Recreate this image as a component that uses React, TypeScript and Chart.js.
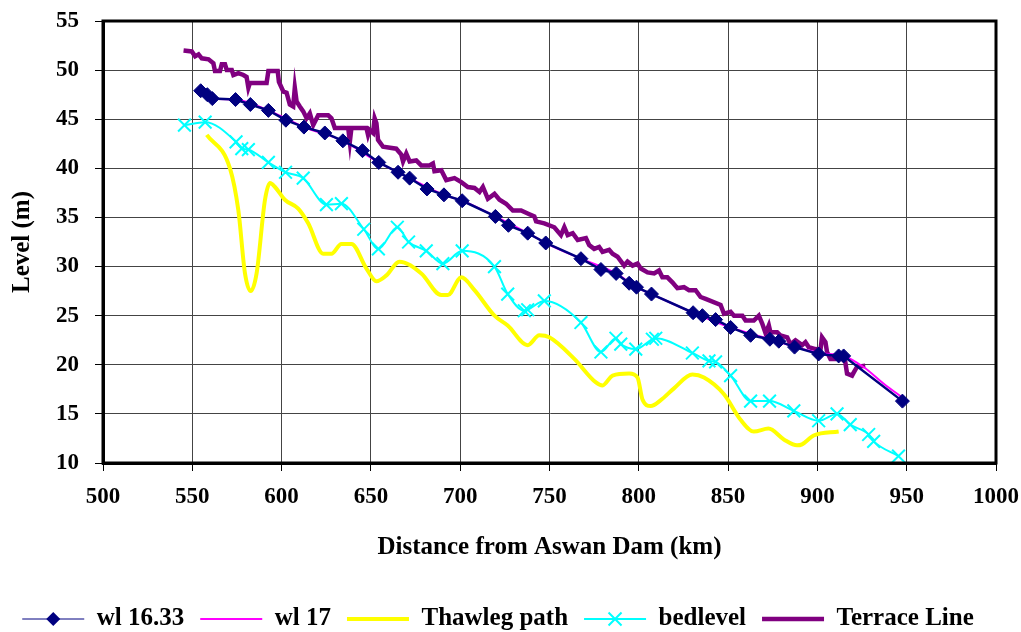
import React, { useEffect, useRef } from 'react';
import { Chart, registerables } from 'chart.js';

Chart.register(...registerables);

const FONT = "'Liberation Serif', 'Times New Roman', serif";

// ---- data (distance from Aswan Dam in km, level in m) ----
const xTickMin = 500;
const xTickMax = 1000;
const xTickStep = 50;
const yTickMin = 10;
const yTickMax = 55;
const yTickStep = 5;

const seriesNames = ['wl 16.33', 'wl 17', 'Thawleg path', 'bedlevel', 'Terrace Line'];

const wl1633Km = [554.7, 558.4, 561.2, 574.2, 582.5, 592.6, 602.4, 612.5, 624.2, 634.3, 645.3, 654.4, 665.2, 671.7, 681.4, 690.9, 701.1, 719.7, 727.0, 737.8, 747.9, 767.6, 778.8, 787.3, 794.6, 798.7, 807.1, 830.4, 835.6, 843.0, 851.4, 862.6, 873.4, 878.4, 887.2, 900.7, 911.9, 914.7, 947.6];
const wl1633Level = [47.9, 47.5, 47.1, 47.0, 46.5, 45.9, 44.9, 44.2, 43.6, 42.8, 41.8, 40.6, 39.6, 39.0, 37.9, 37.3, 36.7, 35.1, 34.2, 33.4, 32.4, 30.8, 29.7, 29.3, 28.3, 27.9, 27.2, 25.3, 25.0, 24.6, 23.8, 23.0, 22.6, 22.4, 21.8, 21.1, 20.9, 20.9, 16.3];

const wl17Km = [554.7, 561.2, 574.2, 592.6, 612.5, 634.3, 654.4, 671.7, 690.9, 701.1, 719.7, 737.8, 747.9, 767.6, 787.3, 798.7, 807.1, 830.4, 851.4, 873.4, 893.9, 900.7, 914.7, 926.0, 937.0, 948.0];
const wl17Level = [47.9, 47.1, 47.0, 45.9, 44.2, 42.8, 40.6, 39.0, 37.3, 36.7, 35.1, 33.4, 32.4, 30.8, 29.3, 27.9, 27.2, 25.3, 23.8, 22.6, 21.5, 21.2, 20.9, 19.75, 18.1, 16.6];

const thalwegKm = [558.1, 571.1, 575.8, 579.5, 582.7, 586.0, 590.7, 593.5, 596.3, 601.8, 609.3, 614.9, 623.3, 627.9, 633.5, 639.1, 647.5, 653.1, 658.7, 665.9, 678.2, 689.4, 693.1, 700.6, 708.0, 719.2, 726.6, 737.8, 744.3, 749.9, 763.9, 776.0, 779.7, 785.3, 794.6, 799.3, 802.0, 806.7, 812.3, 819.7, 830.0, 836.5, 847.7, 857.0, 864.4, 872.6, 881.2, 888.6, 891.4, 897.9, 911.9];
const thalwegLevel = [43.4, 40.0, 35.7, 29.3, 27.5, 29.3, 36.8, 38.5, 38.1, 36.8, 35.9, 34.4, 31.3, 31.3, 32.3, 32.3, 29.8, 28.5, 29.1, 30.5, 29.3, 27.1, 27.1, 28.9, 27.6, 25.0, 24.0, 22.0, 23.0, 22.8, 20.6, 18.2, 17.9, 18.9, 19.1, 18.7, 16.5, 15.8, 16.4, 17.6, 19.0, 18.7, 17.0, 14.4, 13.2, 13.5, 12.4, 11.8, 11.9, 12.8, 13.2];

const bedKm = [545.6, 557.2, 574.5, 577.7, 581.4, 592.6, 602.2, 612.1, 625.1, 633.5, 646.0, 654.2, 664.8, 671.1, 681.0, 690.3, 701.1, 719.2, 726.6, 735.9, 737.8, 747.1, 767.6, 778.8, 787.2, 789.9, 798.3, 807.6, 809.5, 830.0, 839.3, 843.0, 851.4, 862.6, 873.2, 886.8, 900.7, 911.0, 918.4, 928.7, 931.5, 945.4];
const bedLevel = [44.4, 44.7, 42.7, 42.0, 41.9, 40.6, 39.6, 39.0, 36.3, 36.4, 33.8, 31.8, 34.0, 32.5, 31.6, 30.3, 31.6, 30.0, 27.2, 25.5, 25.6, 26.5, 24.3, 21.3, 22.7, 22.1, 21.6, 22.6, 22.7, 21.2, 20.4, 20.3, 18.9, 16.3, 16.3, 15.3, 14.3, 15.0, 13.9, 12.9, 12.2, 10.7];

const terraceKm = [545.1, 549.7, 551.6, 553.5, 555.3, 559.1, 561.8, 562.7, 565.5, 566.5, 568.3, 569.3, 572.1, 573.0, 575.8, 578.6, 580.4, 581.4, 582.3, 585.1, 591.6, 592.6, 597.8, 598.5, 601.0, 602.8, 604.6, 606.5, 607.4, 608.4, 610.2, 612.1, 614.0, 615.8, 617.7, 620.5, 626.1, 627.9, 629.8, 637.3, 638.2, 639.1, 641.0, 647.5, 648.4, 649.3, 651.2, 652.1, 653.1, 654.0, 656.8, 664.2, 667.0, 668.0, 669.8, 671.7, 675.4, 678.2, 682.8, 684.7, 685.6, 689.4, 692.2, 696.8, 700.6, 704.3, 708.0, 710.8, 712.7, 715.5, 719.2, 722.0, 725.7, 729.5, 734.1, 737.8, 741.5, 742.5, 747.1, 752.7, 756.4, 758.3, 760.2, 763.0, 765.8, 770.4, 772.2, 775.0, 777.8, 779.7, 783.4, 785.3, 788.1, 791.8, 793.7, 796.5, 799.3, 801.1, 804.9, 808.6, 811.3, 813.2, 816.0, 818.8, 821.6, 825.3, 828.1, 831.8, 834.6, 837.4, 845.8, 847.7, 851.4, 853.3, 858.0, 859.8, 864.4, 867.2, 869.1, 871.0, 872.8, 873.7, 877.5, 879.3, 883.1, 884.9, 887.7, 891.5, 893.3, 895.1, 898.9, 901.7, 902.6, 904.5, 905.4, 907.3, 910.1, 912.8, 915.6, 916.6, 919.4, 920.3, 922.2, 926.8];
const terraceLevel = [52.0, 51.9, 51.4, 51.6, 51.2, 51.1, 50.7, 49.9, 49.9, 50.6, 50.6, 50.0, 50.0, 49.5, 49.7, 49.5, 49.3, 48.2, 48.7, 48.7, 48.7, 49.9, 49.9, 48.8, 47.8, 47.7, 46.5, 46.3, 48.2, 46.8, 46.3, 45.8, 45.1, 45.6, 44.4, 45.4, 45.4, 45.1, 44.1, 44.1, 42.7, 44.1, 44.1, 44.1, 43.4, 43.9, 43.6, 45.1, 44.6, 42.9, 42.2, 42.0, 41.4, 40.7, 41.5, 40.7, 40.8, 40.3, 40.3, 40.5, 39.7, 39.8, 38.8, 39.0, 38.6, 38.1, 38.0, 37.6, 38.1, 36.9, 37.4, 36.8, 36.4, 35.7, 35.7, 35.4, 35.1, 34.6, 34.4, 34.0, 33.2, 34.0, 33.2, 33.4, 32.7, 32.9, 32.2, 31.8, 32.0, 31.5, 31.7, 31.3, 31.0, 30.1, 30.5, 30.1, 30.3, 29.8, 29.4, 29.3, 29.6, 28.9, 28.9, 28.4, 27.8, 27.9, 27.6, 27.6, 26.9, 26.7, 26.1, 25.2, 25.4, 25.0, 25.0, 24.5, 24.5, 25.0, 24.2, 23.2, 24.0, 23.3, 23.3, 23.0, 22.8, 22.1, 22.5, 22.0, 22.3, 21.8, 21.6, 21.5, 22.8, 22.3, 21.3, 20.6, 20.6, 20.8, 20.3, 19.1, 18.9, 19.2, 19.8, 19.9];

const toPoints = (xs: number[], ys: number[]) => xs.map((x, i) => ({ x, y: ys[i] }));

const NAVY = '#000080';
const MAGENTA = '#FF00FF';
const YELLOW = '#FFFF00';
const CYAN = '#00FFFF';
const PURPLE = '#800080';

const TICK_SIZE = 23;
const TITLE_SIZE = 25;
const LEGEND_SIZE = 25;
const LEGEND_LINE = 62;

const framePlugin = {
  id: 'plotFrame',
  afterDatasetsDraw(chart: any) {
    const { ctx, chartArea } = chart;
    ctx.save();
    ctx.strokeStyle = '#000';
    ctx.lineWidth = 3;
    ctx.strokeRect(chartArea.left, chartArea.top, chartArea.right - chartArea.left, chartArea.bottom - chartArea.top);
    ctx.restore();
  },
};

const legendMarkerPlugin = {
  id: 'legendMarkers',
  afterDraw(chart: any) {
    const legend = chart.legend;
    if (!legend || !legend.legendHitBoxes) return;
    const { ctx } = chart;
    legend.legendItems.forEach((item: any, i: number) => {
      const hb = legend.legendHitBoxes[i];
      if (!hb) return;
      const cx = hb.left + LEGEND_LINE / 2;
      const cy = hb.top + LEGEND_SIZE / 2;
      ctx.save();
      if (item.datasetIndex === 0) {
        const r = 7;
        ctx.fillStyle = NAVY;
        ctx.beginPath();
        ctx.moveTo(cx, cy - r);
        ctx.lineTo(cx + r, cy);
        ctx.lineTo(cx, cy + r);
        ctx.lineTo(cx - r, cy);
        ctx.closePath();
        ctx.fill();
      } else if (item.datasetIndex === 3) {
        const d = 6.5;
        ctx.strokeStyle = CYAN;
        ctx.lineWidth = 2;
        ctx.beginPath();
        ctx.moveTo(cx - d, cy - d);
        ctx.lineTo(cx + d, cy + d);
        ctx.moveTo(cx - d, cy + d);
        ctx.lineTo(cx + d, cy - d);
        ctx.stroke();
      }
      ctx.restore();
    });
  },
};

export default function App() {
  const canvasRef = useRef<HTMLCanvasElement | null>(null);

  useEffect(() => {
    const canvas = canvasRef.current;
    if (!canvas) return;
    const tickFont = { family: FONT, size: TICK_SIZE, weight: 'bold' as const };
    const titleFont = { family: FONT, size: TITLE_SIZE, weight: 'bold' as const };
    const chart = new Chart(canvas, {
      type: 'line',
      data: {
        datasets: [
          {
            label: seriesNames[0],
            data: toPoints(wl1633Km, wl1633Level),
            borderColor: NAVY,
            backgroundColor: NAVY,
            borderWidth: 2.5,
            pointStyle: 'rectRot',
            pointRadius: 7,
            pointBorderWidth: 1,
            pointBackgroundColor: NAVY,
            pointBorderColor: NAVY,
            tension: 0,
          },
          {
            label: seriesNames[1],
            data: toPoints(wl17Km, wl17Level),
            borderColor: MAGENTA,
            backgroundColor: MAGENTA,
            borderWidth: 2,
            pointRadius: 0,
            cubicInterpolationMode: 'monotone',
          },
          {
            label: seriesNames[2],
            data: toPoints(thalwegKm, thalwegLevel),
            borderColor: YELLOW,
            backgroundColor: YELLOW,
            borderWidth: 4,
            pointRadius: 0,
            cubicInterpolationMode: 'monotone',
          },
          {
            label: seriesNames[3],
            data: toPoints(bedKm, bedLevel),
            borderColor: CYAN,
            backgroundColor: CYAN,
            borderWidth: 2,
            pointStyle: 'crossRot',
            pointRadius: 9,
            pointBorderWidth: 2,
            pointBorderColor: CYAN,
            cubicInterpolationMode: 'monotone',
          },
          {
            label: seriesNames[4],
            data: toPoints(terraceKm, terraceLevel),
            borderColor: PURPLE,
            backgroundColor: PURPLE,
            borderWidth: 4.5,
            pointRadius: 0,
            tension: 0,
          },
        ],
      },
      options: {
        animation: false,
        responsive: false,
        devicePixelRatio: 1,
        events: [],
        layout: { padding: { top: 21, right: 25, left: 0, bottom: -9.5 } },
        scales: {
          x: {
            type: 'linear',
            min: xTickMin,
            max: xTickMax,
            ticks: {
              stepSize: xTickStep,
              color: '#000',
              font: tickFont,
              padding: 12,
              maxRotation: 0,
              callback: (v: any) => String(v),
            },
            grid: { color: '#444', lineWidth: 1, tickLength: 8, tickColor: '#000' },
            border: { display: true, color: '#000', width: 3 },
            title: {
              display: true,
              text: 'Distance from Aswan Dam (km)',
              color: '#000',
              font: titleFont,
              padding: { top: 0, bottom: 27.5 },
            },
            afterFit(scale: any) {
              scale.height = 127.5;
              scale.paddingLeft = 0;
              scale.paddingRight = 0;
              scale.paddingTop = 0;
              scale.paddingBottom = 0;
            },
          },
          y: {
            type: 'linear',
            min: yTickMin,
            max: yTickMax,
            ticks: { stepSize: yTickStep, color: '#000', font: tickFont, padding: 16, callback: (v: any) => String(v) },
            grid: { color: '#444', lineWidth: 1, tickLength: 8, tickColor: '#000' },
            border: { display: true, color: '#000', width: 3 },
            title: {
              display: true,
              text: 'Level (m)',
              color: '#000',
              font: titleFont,
              padding: { top: 8, bottom: 0 },
            },
            afterFit(scale: any) {
              scale.width = 103;
              scale.paddingLeft = 0;
              scale.paddingRight = 0;
              scale.paddingTop = 0;
              scale.paddingBottom = 0;
            },
          },
        },
        plugins: {
          tooltip: { enabled: false },
          legend: {
            display: true,
            position: 'bottom',
            labels: {
              usePointStyle: true,
              pointStyleWidth: LEGEND_LINE,
              padding: 16,
              color: '#000',
              font: { family: FONT, size: LEGEND_SIZE, weight: 'bold' },
              generateLabels(ch: any) {
                const items = Chart.defaults.plugins.legend.labels.generateLabels(ch);
                return items.map((it: any) => ({ ...it, pointStyle: 'line' }));
              },
            },
          },
        },
      } as any,
      plugins: [framePlugin, legendMarkerPlugin],
    });
    return () => chart.destroy();
  }, []);

  return (
    <div style={{ position: 'fixed', left: 0, top: 0, width: 1021, height: 632, background: '#fff', overflow: 'hidden' }}>
      <canvas ref={canvasRef} width={1021} height={632} style={{ display: 'block' }} />
    </div>
  );
}
